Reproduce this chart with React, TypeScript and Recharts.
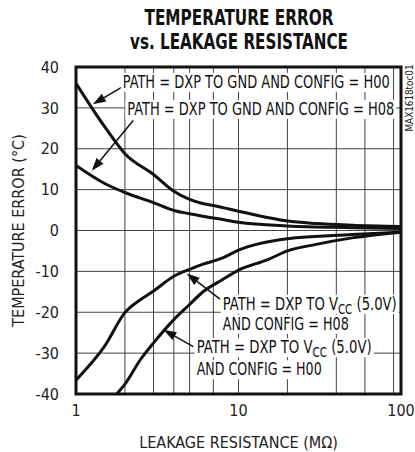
import React from "react"
import { LineChart, Line, XAxis, YAxis, CartesianGrid, ReferenceArea, ReferenceDot, ReferenceLine } from "recharts"

const FONT = "'Liberation Sans Narrow', 'DejaVu Sans Condensed', 'Roboto Condensed', sans-serif"

// x = leakage resistance (MΩ), y = temperature error (°C)
const gndH00 = [
  { x: 1, y: 36 }, { x: 1.5, y: 25.4 }, { x: 2, y: 18.8 }, { x: 3, y: 13.7 }, { x: 4, y: 9.6 },
  { x: 5, y: 7.6 }, { x: 6, y: 6.6 }, { x: 7, y: 6.1 }, { x: 8, y: 5.6 }, { x: 10, y: 4.7 },
  { x: 15, y: 3.2 }, { x: 20, y: 2.3 }, { x: 30, y: 1.7 }, { x: 50, y: 1.3 }, { x: 100, y: 1.0 },
]
const gndH08 = [
  { x: 1, y: 15.9 }, { x: 1.5, y: 11.5 }, { x: 2, y: 9.3 }, { x: 3, y: 6.8 }, { x: 4, y: 4.9 },
  { x: 5, y: 4.1 }, { x: 6, y: 3.5 }, { x: 8, y: 2.7 }, { x: 10, y: 2.0 }, { x: 20, y: 1.1 },
  { x: 50, y: 0.7 }, { x: 100, y: 0.5 },
]
const vccH08 = [
  { x: 1, y: -36.6 }, { x: 1.5, y: -28.3 }, { x: 2, y: -20.1 }, { x: 2.5, y: -16.9 }, { x: 3, y: -14.8 },
  { x: 4, y: -11.2 }, { x: 5, y: -9.5 }, { x: 6, y: -8.3 }, { x: 8, y: -6.7 }, { x: 10, y: -4.8 },
  { x: 20, y: -2.0 }, { x: 50, y: -1.0 }, { x: 100, y: -0.4 },
]
const vccH00 = [
  { x: 1.78, y: -40 }, { x: 2, y: -37.6 }, { x: 2.5, y: -31.5 }, { x: 3, y: -27.5 }, { x: 4, y: -21.8 },
  { x: 5, y: -18.1 }, { x: 6, y: -15.1 }, { x: 8, y: -12.0 }, { x: 10, y: -9.7 }, { x: 15, y: -7.2 },
  { x: 20, y: -5.0 }, { x: 30, y: -3.4 }, { x: 50, y: -1.8 }, { x: 100, y: -0.4 },
]

const xTicks = [1, 10, 100]
const yTicks = [-40, -30, -20, -10, 0, 10, 20, 30, 40]
const gridX = [2, 3, 4, 5, 6, 7, 8, 9, 10, 20, 30, 40, 50, 60, 70, 80, 90]

// annotations, anchored in data units (left edge, baseline)
const labels = [
  { x: 1.94, y: 34.9, text: "PATH = DXP TO GND AND CONFIG = H00", w: 267, vcc: false },
  { x: 2.07, y: 28.3, text: "PATH = DXP TO GND AND CONFIG = H08", w: 267, vcc: false },
  { x: 8.0, y: -19.4, text: "PATH = DXP TO VCC (5.0V)", w: 174, vcc: true },
  { x: 8.0, y: -24.3, text: "AND CONFIG = H08", w: 126, vcc: false },
  { x: 5.53, y: -30.0, text: "PATH = DXP TO VCC (5.0V)", w: 175, vcc: true },
  { x: 5.53, y: -35.4, text: "AND CONFIG = H00", w: 125, vcc: false },
]
const arrows = [
  { x1: 1.94, y1: 35.2, x2: 1.27, y2: 30.9 },
  { x1: 2.25, y1: 26.9, x2: 1.25, y2: 14.6 },
  { x1: 7.69, y1: -16.8, x2: 4.8, y2: -10.5 },
  { x1: 5.27, y1: -28.4, x2: 3.45, y2: -24.3 },
]

function LabelShape(props: any, l: any) {
  const { cx, cy } = props
  if (cx == null || cy == null) return <g />
  return (
    <g>
      <rect x={cx - 2} y={cy - 15} width={l.w + 4} height={19} fill="#fff" />
      <text x={cx} y={cy} fontFamily={FONT} fontSize={18} fill="#111" textLength={l.w} lengthAdjust="spacingAndGlyphs">
        {l.vcc ? (
          <>
            <tspan>PATH = DXP TO V</tspan>
            <tspan fontSize={14} dy={4}>CC</tspan>
            <tspan dy={-4}> (5.0V)</tspan>
          </>
        ) : (
          l.text
        )}
      </text>
    </g>
  )
}

function ArrowShape(props: any) {
  const { x1, y1, x2, y2 } = props
  if ([x1, y1, x2, y2].some((v) => v == null || isNaN(v))) return <g />
  const dx = x2 - x1
  const dy = y2 - y1
  const len = Math.sqrt(dx * dx + dy * dy)
  const ux = dx / len
  const uy = dy / len
  const hl = 13
  const hw = 4.5
  const bx = x2 - ux * hl
  const by = y2 - uy * hl
  const pts = `${x2},${y2} ${bx - uy * hw},${by + ux * hw} ${bx + uy * hw},${by - ux * hw}`
  return (
    <g>
      <line x1={x1} y1={y1} x2={bx} y2={by} stroke="#111" strokeWidth={1.5} />
      <polygon points={pts} fill="#111" />
    </g>
  )
}

export default function App() {
  return (
    <div style={{ position: "absolute", left: 0, top: 0, width: 415, height: 452, background: "#fff" }}>
      <LineChart width={415} height={452} margin={{ top: 67, right: 14, bottom: 0, left: 0 }}>
        <CartesianGrid stroke="#444" strokeWidth={1} verticalValues={gridX} horizontalValues={yTicks} />
        <XAxis
          dataKey="x"
          type="number"
          scale="log"
          domain={[1, 100]}
          ticks={xTicks}
          allowDataOverflow
          height={58}
          axisLine={false}
          tickLine={false}
          tickMargin={5}
          tick={{ fill: "#222", fontSize: 16, fontFamily: FONT }}
          label={{
            content: (p: any) => {
              const vb = p.viewBox || {}
              return (
                <text x={vb.x + vb.width / 2} y={448} textAnchor="middle" fontFamily={FONT} fontSize={16} fill="#222">
                  LEAKAGE RESISTANCE (MΩ)
                </text>
              )
            },
          }}
        />
        <YAxis
          type="number"
          domain={[-40, 40]}
          ticks={yTicks}
          allowDataOverflow
          width={76}
          axisLine={false}
          tickLine={false}
          tickMargin={11}
          tick={{ fill: "#222", fontSize: 16, fontFamily: FONT }}
          label={{
            content: (p: any) => {
              const vb = p.viewBox || {}
              const cy = vb.y + vb.height / 2
              return (
                <text
                  x={24}
                  y={cy}
                  transform={`rotate(-90 24 ${cy})`}
                  textAnchor="middle"
                  fontFamily={FONT}
                  fontSize={16}
                  fill="#222"
                >
                  TEMPERATURE ERROR (°C)
                </text>
              )
            },
          }}
        />
        <Line data={gndH00} dataKey="y" type="monotoneX" stroke="#111" strokeWidth={3} dot={false} isAnimationActive={false} />
        <Line data={gndH08} dataKey="y" type="monotoneX" stroke="#111" strokeWidth={3} dot={false} isAnimationActive={false} />
        <Line data={vccH08} dataKey="y" type="monotoneX" stroke="#111" strokeWidth={3} dot={false} isAnimationActive={false} />
        <Line data={vccH00} dataKey="y" type="monotoneX" stroke="#111" strokeWidth={3} dot={false} isAnimationActive={false} />
        {labels.map((l, i) => (
          <ReferenceDot key={"l" + i} x={l.x} y={l.y} r={1} ifOverflow="visible" shape={(p: any) => LabelShape(p, l)} />
        ))}
        {arrows.map((a, i) => (
          <ReferenceLine
            key={"a" + i}
            segment={[{ x: a.x1, y: a.y1 }, { x: a.x2, y: a.y2 }]}
            ifOverflow="visible"
            shape={ArrowShape}
          />
        ))}
        <ReferenceArea x1={1} x2={100} y1={-40} y2={40} fill="none" fillOpacity={0} stroke="#111" strokeWidth={3} ifOverflow="visible" />
      </LineChart>
      <svg width={415} height={452} style={{ position: "absolute", left: 0, top: 0, pointerEvents: "none" }}>
        <text x={239} y={25} textAnchor="middle" fontFamily={FONT} fontWeight="bold" fontSize={21} fill="#111" textLength={189} lengthAdjust="spacingAndGlyphs">
          TEMPERATURE ERROR
        </text>
        <text x={239} y={49} textAnchor="middle" fontFamily={FONT} fontWeight="bold" fontSize={21} fill="#111" textLength={218} lengthAdjust="spacingAndGlyphs">
          vs. LEAKAGE RESISTANCE
        </text>
        <text
          x={413}
          y={98}
          transform="rotate(-90 413 98)"
          textAnchor="middle"
          fontFamily={FONT}
          fontSize={10}
          fill="#222"
          textLength={67}
          lengthAdjust="spacingAndGlyphs"
        >
          MAX1618toc01
        </text>
      </svg>
    </div>
  )
}
